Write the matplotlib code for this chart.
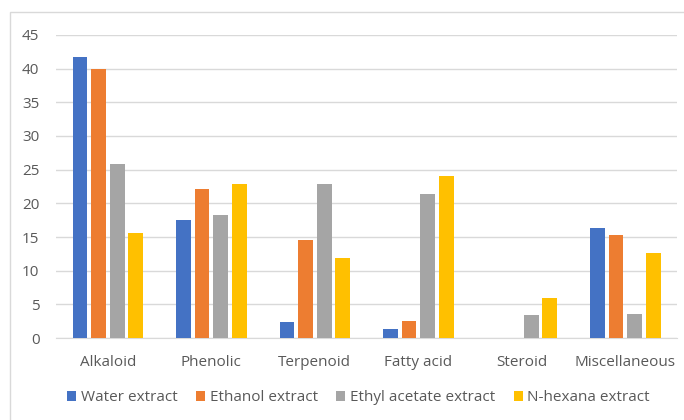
import numpy as np
import matplotlib.pyplot as plt
from matplotlib.patches import Rectangle

categories = ['Alkaloid', 'Phenolic', 'Terpenoid', 'Fatty acid', 'Steroid', 'Miscellaneous']
series_names = ['Water extract', 'Ethanol extract', 'Ethyl acetate extract', 'N-hexana extract']
water = [41.7, 17.5, 2.4, 1.3, 0, 16.3]
ethanol = [39.9, 22.1, 14.6, 2.6, 0, 15.3]
ethyl_acetate = [25.8, 18.3, 22.8, 21.4, 3.4, 3.6]
n_hexana = [15.6, 22.8, 11.9, 24.1, 5.9, 12.6]
colors = ['#4472C4', '#ED7D31', '#A5A5A5', '#FFC000']

plt.rcParams['font.family'] = ['Open Sans', 'DejaVu Sans']
fig = plt.figure(figsize=(6.84, 4.2), dpi=100)
ax = fig.add_axes([0.082, 0.195, 0.908, 0.722])

# light frame around the chart, like the Excel chart area
fig.patches.append(Rectangle((10 / 684, -0.05), 1.0, 1.05 - 12 / 420, transform=fig.transFigure,
                             fill=False, edgecolor='#D9D9D9', linewidth=1))

x = np.arange(len(categories))
slot = 0.18
width = 0.142
for i, (vals, name) in enumerate(zip([water, ethanol, ethyl_acetate, n_hexana], series_names)):
    ax.bar(x + (i - 1.5) * slot, vals, width, color=colors[i], label=name, zorder=3)

ax.set_xlim(-0.5, 5.5)
ax.set_ylim(0, 45)
ax.set_yticks(range(0, 46, 5))
ax.set_xticks(x)
ax.set_xticklabels(categories)
ax.grid(axis='y', color='#D9D9D9', linewidth=1, zorder=0)
for side in ['top', 'right', 'left']:
    ax.spines[side].set_visible(False)
ax.spines['bottom'].set_color('#D9D9D9')
ax.tick_params(axis='both', length=0, labelsize=11, labelcolor='#595959')
ax.tick_params(axis='x', pad=12)
ax.tick_params(axis='y', pad=12)

ax.legend(loc='center', bbox_to_anchor=(0.487, -0.197), ncol=4, frameon=False,
          fontsize=11, labelcolor='#595959', handlelength=0.6, handleheight=0.6,
          handletextpad=0.3, columnspacing=1.2)

fig.savefig('out.png', dpi=100)
